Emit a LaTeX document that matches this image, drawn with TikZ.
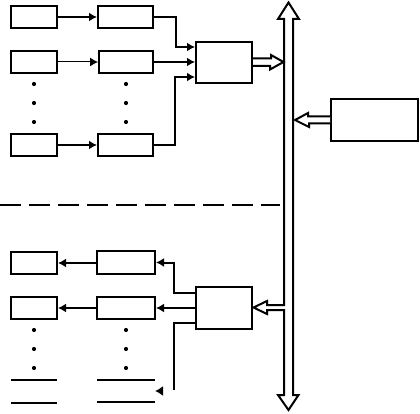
\documentclass[tikz,border=0pt]{standalone}
\usepackage{amsmath,amssymb}
\usetikzlibrary{arrows.meta, positioning, calc}
\tikzset{
    smallbox/.style={rectangle, draw=black, line width=2pt, fill=white, minimum width=46pt, minimum height=22pt, inner sep=0pt},
    midbox/.style={rectangle, draw=black, line width=2pt, fill=white, minimum width=55pt, minimum height=22pt, inner sep=0pt},
    ctlbox/.style={rectangle, draw=black, line width=2pt, fill=white, minimum width=56pt, minimum height=41.5pt, inner sep=0pt},
    sigarrow/.style={-{Latex[length=8pt,width=9pt]}, line width=2pt, draw=black},
    sigline/.style={line width=2pt, draw=black},
    busline/.style={line width=2pt, draw=black, fill=white, line join=miter},
    dotmark/.style={circle, fill=black, minimum size=4.2pt, inner sep=0pt}
}
\begin{document}
\begin{tikzpicture}[x=1pt, y=-1pt]
    \useasboundingbox (0,0) rectangle (420,414);

    % Upper blocks
    \node[smallbox] (in1) at (34,17) {};
    \node[smallbox] (in2) at (34,62) {};
    \node[smallbox] (in3) at (34,145) {};
    \node[midbox] (conv1) at (125.5,17) {};
    \node[midbox, minimum width=54pt] (conv2) at (126,62) {};
    \node[midbox] (conv3) at (125.5,145) {};
    \node[ctlbox] (ctlup) at (224,62.5) {};
    \node[rectangle, draw=black, line width=2pt, minimum width=87pt, minimum height=42pt] (host) at (374.5,120) {};

    % Lower blocks
    \node[smallbox] (out1) at (34,263) {};
    \node[smallbox] (out2) at (34,308) {};
    \node[midbox, minimum width=58pt, minimum height=23pt] (drv1) at (126,262.5) {};
    \node[midbox, minimum width=58pt] (drv2) at (126,308) {};
    \node[ctlbox, minimum height=42pt] (ctldown) at (224,308) {};

    % Dots
    \foreach \y in {84,103,122,330,349,368} {
        \node[dotmark] (dl\y) at (34,\y) {};
        \node[dotmark] (dr\y) at (126,\y) {};
    }

    % Open rows at the bottom
    \coordinate (ola) at (11,380);
    \coordinate (olb) at (57,380);
    \coordinate (olc) at (11,403);
    \coordinate (old) at (57,403);
    \coordinate (ole) at (97,380);
    \coordinate (olf) at (155,380);
    \coordinate (olg) at (97,402);
    \coordinate (olh) at (155,402);
    \draw[sigline] (ola) -- (olb);
    \draw[sigline] (olc) -- (old);
    \draw[sigline] (ole) -- (olf);
    \draw[sigline] (olg) -- (olh);

    % Upper signal paths
    \draw[sigarrow] (in1) -- (conv1);
    \draw[sigarrow, line width=1pt] (in2) -- (conv2);
    \draw[sigarrow] (in3) -- (conv3);
    \draw[sigarrow] (conv1.east) -- ++(22,0) |- ($(ctlup.west)+(0,-15.5)$);
    \draw[sigarrow] (conv2) -- (conv2 -| ctlup.west);
    \draw[sigarrow] (conv3.east) -- ++(21,0) |- ($(ctlup.west)+(0,14.5)$);

    % Lower signal paths
    \draw[sigarrow] (out1.east -| drv1.west) -- (out1.east);
    \draw[sigarrow] (drv2) -- (out2);
    \draw[sigarrow] ($(ctldown.west)+(0,-15)$) -- ++(-21,0) |- (drv1.east);
    \draw[sigarrow] (ctldown.west) -- (ctldown.west -| drv2.east);
    \coordinate (stub) at (174,390);
    \draw[sigline] ($(ctldown.west)+(0,15)$) -| (stub);
    \coordinate (tipa) at (163,391);
    \coordinate (tipb) at (155,391);
    \draw[-{Latex[length=8pt,width=10pt]}, line width=2pt] (tipa) -- (tipb);

    % Separator
    \coordinate (sepa) at (0,204.6);
    \coordinate (sepb) at (280,204.6);
    \draw[line width=2pt, dash pattern=on 21pt off 8pt] (sepa) -- (sepb);

    % Bus
    \draw[busline] (284,305) -- (267,305) -- (267,301) -- (253.5,307.5) -- (267,314) -- (267,310) -- (284,310)
        -- (284,395) -- (278,395) -- (288.5,410) -- (298.5,395) -- (293,395)
        -- (293,19) -- (299,19) -- (288.5,2.5) -- (278,19) -- (284,19) -- cycle;

    % Hollow arrows into the bus
    \draw[busline] ($(ctlup.east)+(0,-4)$) -- ++(18,0) -- ++(0,-3.5) -- (283.5,62) -- (270,69.5) -- (270,66) -- ($(ctlup.east)+(0,3.5)$);
    \draw[busline] ($(host.west)+(0,-3.5)$) -- ++(-22,0) -- ++(0,-3.5) -- (295,120) -- (309,127) -- (309,123.5) -- ($(host.west)+(0,3.5)$);
\end{tikzpicture}
\end{document}
